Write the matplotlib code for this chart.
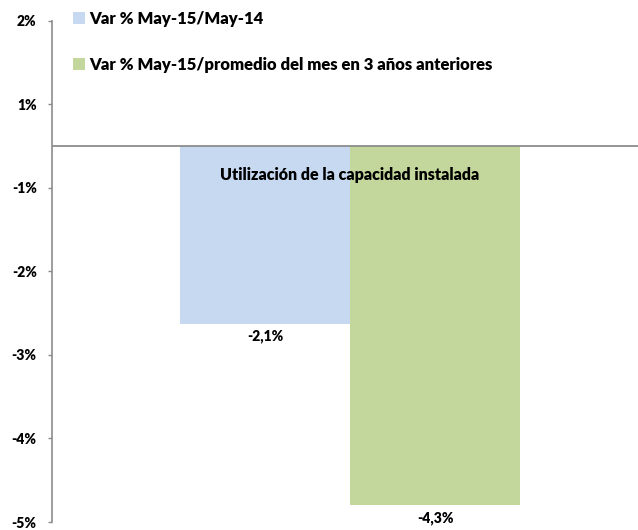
import matplotlib
matplotlib.use("Agg")
import matplotlib.pyplot as plt
from matplotlib.patches import Patch

plt.rcParams['font.family'] = ['Lato', 'DejaVu Sans']

categories = ["Utilización de la capacidad instalada"]
series_names = ["Var % May-15/May-14",
                "Var % May-15/promedio del mes en 3 años anteriores"]
series_values = [[-2.13], [-4.3]]
series_labels = ["-2,1%", "-4,3%"]
series_colors = ["#C6D9F1", "#C3D69B"]
ytick_values = [1.5, 0.5, -0.5, -1.5, -2.5, -3.5, -4.5]
ytick_labels = ["2%", "1%", "-1%", "-2%", "-3%", "-4%", "-5%"]

W, H = 638, 530
fig = plt.figure(figsize=(W / 100, H / 100), dpi=100)
ax_left, ax_right = 52, 638
ax_top, ax_bot = 20.7, 522
ax = fig.add_axes([ax_left / W, 1 - ax_bot / H, (ax_right - ax_left) / W, (ax_bot - ax_top) / H])

bar_w = 0.5
offsets = [-bar_w / 2, bar_w / 2]
for i, (vals, col) in enumerate(zip(series_values, series_colors)):
    xs = [k + offsets[i] for k in range(len(categories))]
    bars = ax.bar(xs, vals, width=bar_w, color=col, edgecolor='none', zorder=2)
    for b, v in zip(bars, vals):
        ax.annotate(series_labels[i], (b.get_x() + b.get_width() / 2, v),
                    xytext=(0, -9), textcoords='offset points', ha='center', va='center',
                    fontsize=10, fontweight='heavy', color='black')

for k, c in enumerate(categories):
    ax.text(k, -0.35, c, ha='center', va='center', fontsize=11.5, fontweight='heavy',
            color='black', zorder=3)

ax.axhline(0, color='#8C8C8C', lw=1.3, zorder=3)
ax.set_ylim(-4.5, 1.5)
ax.set_xlim(-298 / 340, 288 / 340)
ax.set_yticks(ytick_values)
ax.set_yticklabels(ytick_labels, fontsize=10, fontweight='heavy')
ax.tick_params(axis='y', direction='out', length=3, width=1, color='#8C8C8C', pad=8)
ax.set_xticks([])
for s in ['top', 'right', 'bottom']:
    ax.spines[s].set_visible(False)
ax.spines['left'].set_color('#8C8C8C')
ax.spines['left'].set_linewidth(1.2)

handles = [Patch(facecolor=c, edgecolor='none') for c in series_colors]
leg = fig.legend(handles, series_names, loc='upper left', bbox_to_anchor=(73 / W, 1 - 11 / H),
                 frameon=False, prop={'weight': 'heavy', 'size': 12},
                 handlelength=0.7, handleheight=0.7, handletextpad=0.25, labelspacing=1.8,
                 borderaxespad=0, borderpad=0)

fig.savefig("out.png", dpi=100)
